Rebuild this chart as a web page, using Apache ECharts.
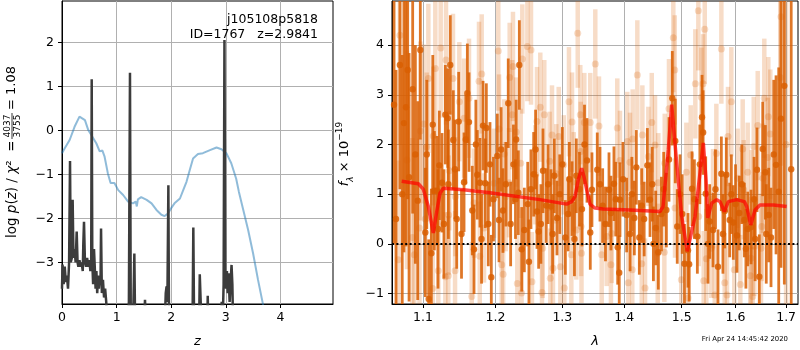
<!DOCTYPE html>
<html><head><meta charset="utf-8">
<script src="https://cdn.jsdelivr.net/npm/echarts@6.0.0/dist/echarts.min.js"></script>
<style>html,body{margin:0;padding:0;background:#fff}#c{width:800px;height:350px}</style>
</head><body><div id="c"></div>
<script>
// ---------- Left panel: p(z) ----------
const pzZ = [0,0.01,0.03,0.05,0.07,0.09,0.11,0.13,0.147,0.16,0.18,0.195,0.21,0.23,0.25,0.269,0.285,0.30,0.32,0.34,0.36,0.38,0.39,0.403,0.42,0.44,0.46,0.48,0.50,0.52,0.535,0.544,0.555,0.57,0.586,0.60,0.615,0.63,0.645,0.66,0.675,0.69,0.705,0.715,0.73,0.75,0.77,0.79,0.81,0.83,1.20,1.225,1.245,1.26,1.30,1.315,1.325,1.34,1.50,1.52,1.54,1.88,1.90,1.915,1.93,1.948,1.96,2.39,2.405,2.42,2.51,2.523,2.54,2.55,2.66,2.669,2.68,2.91,2.925,2.94,2.96,2.975,2.99,3.005,3.02,3.035,3.05,3.07,3.09,3.105,3.12,3.135,5.0];
const pzLogP = [-3.6,-3.05,-3.5,-3.1,-3.45,-3.3,-3.6,-3.0,-0.70,-3.0,-2.9,-1.58,-2.9,-2.7,-3.0,-2.3,-3.0,-3.1,-2.95,-3.1,-3.0,-3.2,-2.6,-2.08,-3.0,-3.1,-2.9,-3.1,-2.95,-3.2,-3.0,1.16,-3.0,-3.5,-2.70,-3.1,-3.6,-3.2,-3.7,-3.3,-3.6,-3.4,-3.5,-2.23,-3.7,-3.4,-3.8,-3.6,-3.9,-4.5,-4.5,-3.9,1.31,-4.5,-4.5,-3.5,-2.80,-4.5,-4.5,-3.85,-4.5,-4.5,-3.7,-3.55,-3.9,-1.25,-4.5,-4.5,-2.21,-4.5,-4.5,-3.27,-3.9,-4.5,-4.5,-3.76,-4.5,-4.5,-3.9,-4.5,-3.5,2.05,-3.3,-3.6,-3.2,-3.7,-3.25,-3.9,-3.4,-3.06,-3.5,-4.5,-4.5];
const chiZ = [0,0.05,0.14,0.23,0.32,0.35,0.42,0.48,0.54,0.63,0.69,0.74,0.78,0.81,0.84,0.89,0.96,1.03,1.12,1.21,1.30,1.35,1.37,1.39,1.45,1.55,1.64,1.73,1.82,1.88,1.94,2.00,2.06,2.16,2.22,2.28,2.34,2.40,2.49,2.58,2.71,2.83,2.92,3.01,3.10,3.19,3.24,3.32,3.41,3.50,3.59,3.68,3.75];
const chiVal = [-0.52,-0.41,-0.22,0.08,0.31,0.33,0.23,0.01,-0.11,-0.30,-0.48,-0.46,-0.60,-0.60,-0.98,-1.20,-1.20,-1.36,-1.47,-1.62,-1.66,-1.62,-1.73,-1.57,-1.52,-1.58,-1.66,-1.81,-1.92,-1.95,-1.89,-1.77,-1.66,-1.55,-1.36,-1.17,-0.90,-0.64,-0.54,-0.52,-0.45,-0.39,-0.43,-0.52,-0.75,-1.10,-1.40,-1.81,-2.27,-2.80,-3.40,-3.95,-4.4];
const leftXTicks = [0,1,2,3,4];
const leftYTicks = [-3,-2,-1,0,1,2];

// ---------- Right panel: spectrum ----------
const darkLam = [1.0625,1.0700,1.0752,1.0778,1.0818,1.0865,1.0931,1.0965,1.1031,1.1076,
1.1111,1.1151,1.1187,1.1218,1.1254,1.1299,1.1331,1.1366,1.1407,1.1454,
1.1481,1.1555,1.1601,1.1624,1.1670,1.1694,1.1740,1.1778,1.1821,1.1853,
1.1868,1.1896,1.1939,1.2025,1.2050,1.2107,1.2184,1.2219,1.2332,1.2347,
1.2382,1.2421,1.2472,1.2490,1.2561,1.2611,1.2636,1.2702,1.2752,1.2824,
1.2875,1.2917,1.3047,1.3152,1.3220,1.3390,1.3443,1.3470,1.3556,1.3644,
1.3748,1.3780,1.3830,1.3892,1.3918,1.3930,1.4042,1.4172,1.4206,1.4257,
1.4298,1.4395,1.4441,1.4540,1.4585,1.4727,1.4773,1.4832,1.4885,1.4920,
1.5114,1.5135,1.5187,1.5284,1.5370,1.5390,1.5438,1.5512,1.5574,1.5667,
1.5730,1.5794,1.5824,1.5888,1.5957,1.6028,1.6072,1.6170,1.6235,1.6300,
1.6417,1.6462,1.6530,1.6582,1.6649,1.6695,1.6796,1.6850,1.6896,1.6964,1.7104,
1.2260,1.2290,1.2300,1.2520,1.2590,1.2670,1.2780,1.2850,1.2960,1.3000,
1.3090,1.3110,1.3190,1.3270,1.3310,1.3350,1.3600,1.3690,1.3860,1.3980,
1.4100,1.4130,1.4340,1.4480,1.4500,1.4640,1.4680,1.4970,1.5010,1.5050,
1.5230,1.5330,1.5480,1.5620,1.5760,1.5920,1.6000,1.6120,1.6200,1.6360,
1.6380,1.6600,1.6750,1.1050,1.1130,1.1200,1.1280,1.1340,1.1430,1.1520,
1.1580,1.1720,1.1800,1.1920,1.1970,1.2080,1.2150,1.0650,1.0730,1.0800,1.0900];
const darkFlux = [2.80,3.60,2.43,2.75,1.34,3.11,0.87,3.90,0.23,-1.11,
-0.19,1.07,1.07,1.58,1.23,2.60,2.53,3.60,2.09,0.50,
2.46,1.24,3.03,2.45,0.67,-0.11,1.39,1.23,2.38,1.22,
2.33,0.40,-0.67,1.77,0.48,0.67,2.83,0.40,1.03,3.60,
-0.11,0.28,0.80,-0.36,1.40,0.65,0.25,1.47,0.77,0.75,
1.37,0.52,0.13,0.91,1.37,1.68,0.23,1.09,1.49,0.77,
1.09,0.62,1.21,-0.07,-0.58,0.89,0.58,0.52,1.54,0.13,
0.77,1.58,0.89,0.32,-0.17,0.68,1.70,2.93,2.07,0.35,
-0.13,-0.41,1.11,0.15,2.55,2.24,1.01,0.45,0.28,-0.46,
1.41,0.66,1.39,0.48,0.43,0.17,0.62,0.48,0.30,0.34,
1.49,-0.66,1.91,1.44,0.58,0.13,1.59,1.05,2.52,3.18,1.5,
1.60,0.90,2.10,1.10,1.90,0.40,1.20,0.20,1.00,1.60,
0.60,1.30,0.10,1.10,0.70,2.00,1.20,0.40,0.90,1.30,
0.20,1.00,0.50,1.20,0.00,0.60,1.10,1.00,0.60,-0.40,
0.90,1.60,0.00,1.10,0.20,1.00,0.80,1.20,-0.10,0.90,
0.10,0.20,1.80,1.80,2.40,0.30,0.40,1.20,1.50,0.20,
2.10,2.00,0.10,1.60,0.90,1.90,1.20,0.50,1.00,3.50,1.80];
const darkErr = [2.8,2.5,2.6,2.8,2.5,2.5,2.0,1.8,1.3,1.2,
1.3,1.2,1.1,1.1,1.0,1.0,1.0,1.0,1.0,1.0,
1.0,1.0,1.0,1.0,0.9,0.9,0.9,0.9,0.9,0.9,
0.9,0.85,0.85,0.85,0.85,0.85,0.9,0.85,0.85,0.9,
0.85,0.85,0.85,0.85,0.85,0.75,0.75,0.85,0.75,0.75,
0.75,0.75,0.75,0.75,0.75,0.85,0.75,0.75,0.75,0.75,
0.75,0.75,0.75,0.75,0.75,0.75,0.75,0.75,0.75,0.75,
0.75,0.75,0.75,0.75,0.75,0.75,0.85,0.95,0.85,0.75,
0.75,0.75,0.75,0.75,0.85,0.85,0.75,0.75,0.75,0.75,
0.75,0.75,0.75,0.75,0.75,0.75,0.75,0.75,0.75,0.75,
0.85,0.85,0.95,0.95,0.95,1.0,1.8,2.5,3.0,4.0,5.0,
0.8,0.8,0.8,0.8,0.8,0.8,0.8,0.8,0.8,0.75,
0.75,0.75,0.75,0.75,0.75,0.8,0.75,0.75,0.75,0.75,
0.75,0.75,0.75,0.75,0.75,0.75,0.75,0.8,0.8,0.8,
0.8,0.8,0.8,0.8,0.8,0.8,0.8,0.8,0.8,0.85,
0.85,1.0,1.5,1.5,1.4,1.2,1.1,1.1,1.0,0.9,
0.9,0.9,0.9,0.85,0.85,0.85,0.85,3.0,2.8,2.6,2.2];

const lightLam = [1.0679,1.0700,1.0791,1.0860,1.0886,1.0954,1.0965,1.1009,1.1031,1.1049,
1.1071,1.1129,1.1137,1.1164,1.1204,1.1236,1.1299,1.1308,1.1339,1.1344,
1.1353,1.1403,1.1431,1.1435,1.1490,1.1555,1.1624,1.1662,1.1694,1.1775,
1.1764,1.1802,1.1835,1.1978,1.2039,1.2050,1.2089,1.2110,1.2125,1.2146,
1.2195,1.2205,1.2242,1.2253,1.2301,1.2317,1.2367,1.2380,1.2391,1.2466,
1.2521,1.2535,1.2586,1.2611,1.2661,1.2687,1.2697,1.2722,1.2804,1.2814,
1.2840,1.2855,1.2906,1.2944,1.2969,1.3022,1.3031,1.3104,1.3141,1.3152,
1.3179,1.3220,1.3242,1.3283,1.3290,1.3296,1.3302,1.3347,1.3443,1.3524,
1.3584,1.3628,1.3710,1.3780,1.3792,1.3885,1.3930,1.4053,1.4070,1.4098,
1.4137,1.4144,1.4223,1.4298,1.4309,1.4355,1.4412,1.4471,1.4528,1.4575,
1.4585,1.4691,1.4698,1.4773,1.4850,1.4875,1.4880,1.4993,1.5084,1.5114,
1.5163,1.5247,1.5302,1.5309,1.5358,1.5389,1.5401,1.5420,1.5449,1.5542,
1.5574,1.5606,1.5636,1.5730,1.5794,1.5837,1.5856,1.5919,1.5976,1.6041,
1.6092,1.6138,1.6158,1.6235,1.6286,1.6300,1.6313,1.6333,1.6353,1.6365,
1.6431,1.6496,1.6510,1.6536,1.6561,1.6629,1.6641,1.6681,1.6882,1.6896,1.7000];
const lightFlux = [-0.32,4.20,1.69,0.13,-0.22,0.32,2.27,2.41,0.50,1.95,
3.33,-0.90,2.17,3.53,-0.54,3.94,-0.66,3.70,-0.64,0.58,
1.47,3.33,-0.54,0.95,2.86,2.53,2.93,-1.06,0.82,-0.25,
3.27,3.42,0.32,1.22,3.88,2.31,-0.42,-0.61,1.81,0.95,
1.23,3.35,2.60,3.57,2.25,-0.80,1.62,-0.99,3.72,3.97,
3.90,-0.76,1.39,2.46,2.75,-0.98,-0.09,2.60,1.66,-0.69,
2.19,-0.49,1.41,2.16,-0.46,1.59,-0.89,2.86,-0.22,2.45,
1.25,0.28,4.24,2.60,1.86,0.35,-0.19,2.44,2.44,3.62,
2.37,-0.22,0.15,-0.42,0.21,2.33,1.68,2.06,-0.78,1.64,
-0.52,2.11,3.40,-0.40,2.19,-0.89,1.76,2.44,1.99,-0.19,
1.23,-0.17,1.62,2.72,4.15,3.50,0.72,-0.72,1.44,-1.09,
1.79,3.22,4.69,0.55,2.95,3.22,-0.74,4.32,-0.30,-0.09,
0.91,-1.03,1.82,3.92,-0.78,-1.03,2.16,2.86,-0.52,1.32,
-0.82,1.91,1.09,1.44,-0.64,-0.29,0.89,-1.06,1.96,-0.05,
2.38,-0.09,0.35,1.32,2.93,1.74,2.56,2.21,3.35,4.57,2.0];
const lightErr = [2.0,2.2,2.2,2.0,2.0,1.8,1.8,1.6,1.5,1.5,
1.5,1.3,1.4,1.4,1.3,1.4,1.3,1.3,1.2,1.2,
1.2,1.3,1.2,1.2,1.2,1.2,1.2,1.1,1.1,1.1,
1.2,1.2,1.1,1.1,1.2,1.1,1.1,1.1,1.1,1.1,
1.1,1.1,1.1,1.1,1.1,1.0,1.1,1.0,1.1,1.1,
1.1,1.0,1.0,1.1,1.1,1.0,1.0,1.1,1.0,1.0,
1.0,1.0,1.0,1.0,1.0,1.0,1.0,1.1,1.0,1.0,
1.0,1.0,1.1,1.0,1.0,1.0,1.0,1.0,1.0,1.1,
1.0,1.0,1.0,1.0,1.0,1.0,1.0,1.0,1.0,1.0,
1.0,1.0,1.1,1.0,1.0,1.0,1.0,1.0,1.0,1.0,
1.0,1.0,1.0,1.0,1.1,1.1,1.0,1.0,1.0,1.0,
1.0,1.1,1.2,1.0,1.0,1.0,1.0,1.1,1.0,1.0,
1.0,1.0,1.0,1.1,1.0,1.0,1.0,1.1,1.0,1.0,
1.0,1.0,1.0,1.0,1.0,1.0,1.0,1.0,1.0,1.0,
1.1,1.1,1.1,1.1,1.2,1.2,1.2,1.3,2.5,3.0,4.0];

const modelLam = [1.0723,1.0939,1.1004,1.1071,1.1137,1.1183,1.1227,1.1272,1.1545,1.1920,1.2656,1.3068,1.3147,1.3199,1.3251,1.3305,1.3342,1.3385,1.3438,1.3519,1.3649,1.4098,1.4615,1.4668,1.4761,1.4821,1.4910,1.5000,1.5101,1.5242,1.5333,1.5394,1.5444,1.5475,1.5550,1.5643,1.5705,1.5787,1.5862,1.6022,1.6170,1.6216,1.6294,1.6378,1.6476,1.6741,1.7012];
const modelFlux = [1.26,1.21,1.10,0.75,0.22,0.65,1.02,1.12,1.09,1.03,0.89,0.80,0.85,0.95,1.29,1.52,1.35,1.09,0.80,0.72,0.70,0.68,0.65,0.75,1.89,2.80,1.63,0.55,-0.15,0.55,1.43,2.03,1.29,0.52,0.82,0.89,0.85,0.65,0.85,0.89,0.85,0.75,0.38,0.68,0.78,0.78,0.75];
const rightXTicks = [1.1,1.2,1.3,1.4,1.5,1.6,1.7];
const rightYTicks = [-1,0,1,2,3,4];

// ---------- build ----------
const FONT = 'DejaVu Sans';
const L = Math.log10;
const LAM_MIN = 1.0599, LAM_MAX = 1.7244;
const RY_MIN = -1.21, RY_MAX = 4.887;
const minus = v => String(v).replace('-', '\u2212');

function zip2(a, b) { return a.map((v, i) => [v, b[i]]); }
function errData(lam, f, e) { return lam.map((v, i) => [L(v), f[i], e[i]]); }

function errRender(color, barW, r, op) {
  return function (params, api) {
    const x = api.value(0), y = api.value(1), e = api.value(2);
    const lo = Math.max(y - e, RY_MIN), hi = Math.min(y + e, RY_MAX);
    const ch = [];
    if (hi > lo) {
      const p1 = api.coord([x, lo]), p2 = api.coord([x, hi]);
      ch.push({type: 'line', shape: {x1: p1[0], y1: p1[1], x2: p2[0], y2: p2[1]},
        style: {stroke: color, lineWidth: barW, opacity: op}});
    }
    if (y >= RY_MIN && y <= RY_MAX) {
      const c = api.coord([x, y]);
      ch.push({type: 'circle', shape: {cx: c[0], cy: c[1], r: r}, style: {fill: color, opacity: op}});
    }
    return {type: 'group', children: ch};
  };
}

const axisCommon = {
  axisLine: {show: true, onZero: false, lineStyle: {color: '#000', width: 1}},
  axisTick: {show: true, inside: false, length: 4, lineStyle: {color: '#000', width: 1}},
  splitLine: {show: true, lineStyle: {color: '#b0b0b0', width: 1}},
};
const labelCommon = {color: '#000', fontFamily: FONT, fontSize: 12.5};

const option = {
  animation: false,
  backgroundColor: '#fff',
  grid: [
    {left: 62, top: 1, width: 271, height: 303, show: true, borderColor: '#000', borderWidth: 1, outerBoundsMode: 'none', containLabel: false},
    {left: 392, top: 1, width: 406, height: 303, show: true, borderColor: '#000', borderWidth: 1, outerBoundsMode: 'none', containLabel: false}
  ],
  xAxis: [
    Object.assign({}, axisCommon, {type: 'value', gridIndex: 0, min: 0, max: 4.963,
      axisTick: Object.assign({}, axisCommon.axisTick, {customValues: leftXTicks}),
      axisLabel: Object.assign({}, labelCommon, {customValues: leftXTicks, margin: 7, formatter: minus}),
      name: 'z', nameLocation: 'middle', nameGap: 31,
      nameTextStyle: {fontFamily: FONT, fontStyle: 'italic', fontSize: 13, color: '#000'}}),
    Object.assign({}, axisCommon, {type: 'value', gridIndex: 1, min: L(LAM_MIN), max: L(LAM_MAX),
      axisTick: Object.assign({}, axisCommon.axisTick, {customValues: rightXTicks.map(L)}),
      axisLabel: Object.assign({}, labelCommon, {customValues: rightXTicks.map(L), margin: 7,
        formatter: v => Math.pow(10, v).toFixed(1)}),
      name: 'λ', nameLocation: 'middle', nameGap: 31,
      nameTextStyle: {fontFamily: FONT, fontStyle: 'italic', fontSize: 13, color: '#000'}})
  ],
  yAxis: [
    Object.assign({}, axisCommon, {type: 'value', gridIndex: 0, min: -3.948, max: 2.939,
      axisTick: Object.assign({}, axisCommon.axisTick, {customValues: leftYTicks}),
      axisLabel: Object.assign({}, labelCommon, {customValues: leftYTicks, margin: 8, formatter: minus})}),
    Object.assign({}, axisCommon, {type: 'value', gridIndex: 1, min: RY_MIN, max: RY_MAX,
      axisTick: Object.assign({}, axisCommon.axisTick, {customValues: rightYTicks}),
      axisLabel: Object.assign({}, labelCommon, {customValues: rightYTicks, margin: 8, formatter: minus})})
  ],
  series: [
    {type: 'line', xAxisIndex: 0, yAxisIndex: 0, data: zip2(chiZ, chiVal), showSymbol: false, symbol: 'none',
      lineStyle: {color: 'rgba(31,119,180,0.5)', width: 2}, z: 2},
    {type: 'line', xAxisIndex: 0, yAxisIndex: 0, data: zip2(pzZ, pzLogP), showSymbol: false, symbol: 'none',
      lineStyle: {color: '#3c3c3c', width: 2.5}, z: 3, clip: true},
    {type: 'custom', xAxisIndex: 1, yAxisIndex: 1, data: errData(lightLam, lightFlux, lightErr),
      renderItem: errRender('#d95f02', 4.5, 3.5, 0.22), z: 2},
    {type: 'custom', xAxisIndex: 1, yAxisIndex: 1, data: errData(darkLam, darkFlux, darkErr),
      renderItem: errRender('#d95f02', 2.8, 3.2, 0.85), z: 3},
    {type: 'line', xAxisIndex: 1, yAxisIndex: 1, data: zip2(modelLam.map(L), modelFlux), showSymbol: false, symbol: 'none',
      lineStyle: {color: '#ff0000', width: 3.5, opacity: 0.7}, z: 4,
      markLine: {silent: true, symbol: 'none', label: {show: false},
        lineStyle: {color: '#000', width: 2, type: [2, 2.4], opacity: 1},
        data: [{yAxis: 0}]}}
  ],
  graphic: [
    {type: 'text', x: 318, y: 20, z: 10, style: {text: 'j105108p5818', font: '12.5px "DejaVu Sans"', fill: '#000', textAlign: 'right', align: 'right', textVerticalAlign: 'middle', verticalAlign: 'middle'}},
    {type: 'text', x: 318, y: 34.5, z: 10, style: {text: 'ID=1767   z=2.9841', font: '12.5px "DejaVu Sans"', fill: '#000', textAlign: 'right', align: 'right', textVerticalAlign: 'middle', verticalAlign: 'middle'}},
    {type: 'text', x: 788, y: 339, z: 10, style: {text: 'Fri Apr 24 14:45:42 2020', font: '6.9px "DejaVu Sans"', fill: '#000', textAlign: 'right', align: 'right', textVerticalAlign: 'middle', verticalAlign: 'middle'}},
    {type: 'group', x: 12, y: 153, rotation: Math.PI / 2, z: 10, children: [
      {type: 'text', x: -85, y: 0, style: {text: 'log {i|p}({i|z}) / {i|χ}\u00b2  =', font: '13.5px "DejaVu Sans"', fill: '#000',
        rich: {i: {fontStyle: 'italic', fontFamily: FONT, fontSize: 13.5}},
        textAlign: 'left', align: 'left', textVerticalAlign: 'middle', verticalAlign: 'middle'}},
      {type: 'text', x: 27, y: -4.8, style: {text: '4037', font: '9px "DejaVu Sans"', fill: '#000', textAlign: 'center', align: 'center', textVerticalAlign: 'middle', verticalAlign: 'middle'}},
      {type: 'line', shape: {x1: 14, y1: 0, x2: 40, y2: 0}, style: {stroke: '#000', lineWidth: 0.8}},
      {type: 'text', x: 27, y: 5.2, style: {text: '3755', font: '9px "DejaVu Sans"', fill: '#000', textAlign: 'center', align: 'center', textVerticalAlign: 'middle', verticalAlign: 'middle'}},
      {type: 'text', x: 43, y: 0, style: {text: '= 1.08', font: '13px "DejaVu Sans"', fill: '#000', textAlign: 'left', align: 'left', textVerticalAlign: 'middle', verticalAlign: 'middle'}}
    ]},
    {type: 'group', x: 345, y: 154, rotation: Math.PI / 2, z: 10, children: [
      {type: 'text', x: 0, y: 0, style: {text: '{i|f}{s|λ} × 10{p|−19}', font: '13px "DejaVu Sans"', fill: '#000',
        rich: {i: {fontStyle: 'italic', fontFamily: FONT, fontSize: 13, lineHeight: 20, verticalAlign: 'middle'},
               s: {fontStyle: 'italic', fontFamily: FONT, fontSize: 9, lineHeight: 20, verticalAlign: 'bottom'},
               p: {fontFamily: FONT, fontSize: 9, lineHeight: 20, verticalAlign: 'top'}},
        lineHeight: 20,
        textAlign: 'center', align: 'center', textVerticalAlign: 'middle', verticalAlign: 'middle'}}
    ]}
  ]
};

const chart = echarts.init(document.getElementById('c'), null, {renderer: 'canvas', width: 800, height: 350});
chart.setOption(option);
</script>
</body></html>
